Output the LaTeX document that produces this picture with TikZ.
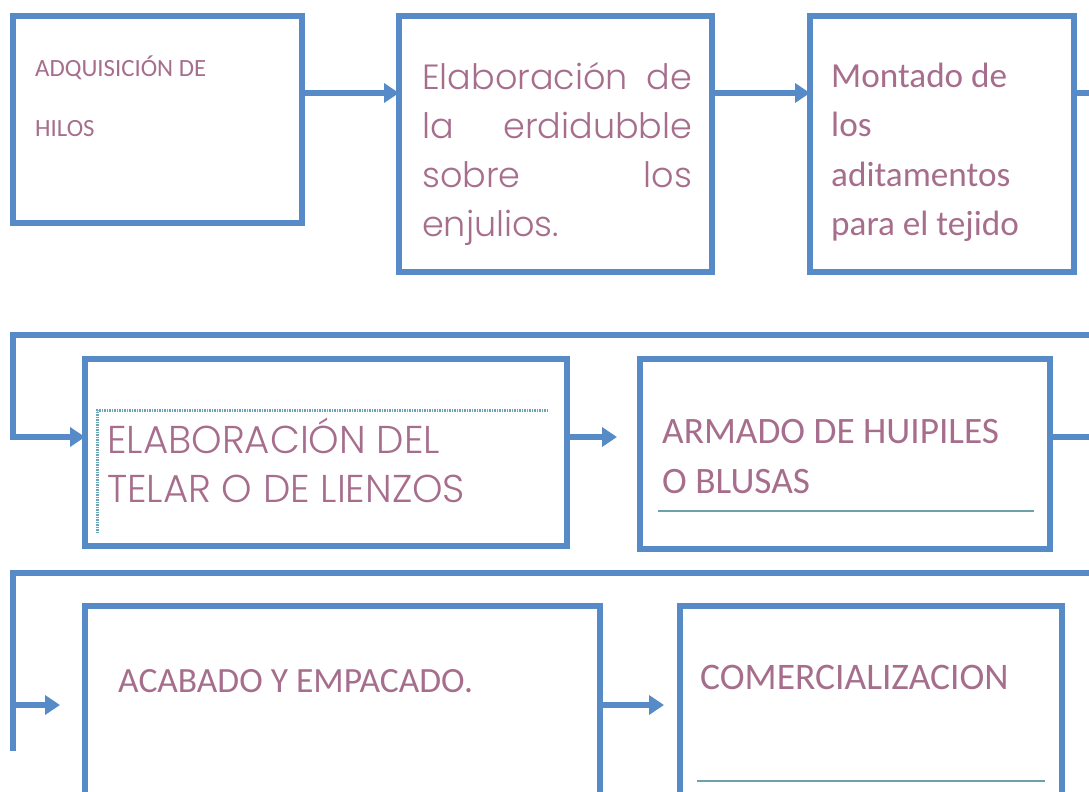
\documentclass[tikz,border=0pt]{standalone}
\usepackage{fontspec}
\setmainfont{Carlito}
\IfFontExistsTF{Poppins Light}{\newfontfamily\gothic{Poppins Light}}{\newfontfamily\gothic{Poppins}}
\usetikzlibrary{arrows.meta,positioning}

\definecolor{flowblue}{RGB}{86,139,199}
\definecolor{mauve}{RGB}{166,110,140}
\definecolor{rulecol}{RGB}{110,160,170}
\definecolor{dotcol}{RGB}{105,165,180}

\tikzset{
  etapa/.style={draw=flowblue, line width=6pt, inner sep=0pt, outer sep=0pt},
  linea/.style={draw=flowblue, line width=6pt},
  flecha/.style={linea, -{Triangle[length=15pt,width=19pt]}},
  texto/.style={anchor=base west, inner sep=0pt, text=mauve},
  subrayado/.style={draw=rulecol, line width=1.5pt}
}

\begin{document}
\begin{tikzpicture}[x=1pt, y=-1pt]
  \useasboundingbox (0,0) rectangle (1089,792);
  \clip (0,0) rectangle (1089,792);

  % first row
  \node[etapa, minimum width=289, minimum height=207] (A) at (157.5,119.5) {};
  \node[etapa, minimum width=313, minimum height=256] (B) at (555.5,144) {};
  \node[etapa, minimum width=264, minimum height=256] (C) at (942,144) {};

  \node[texto, font=\fontsize{24.8}{59}\selectfont] (tA) at (35,77)
    {\parbox[t]{250pt}{ADQUISICIÓN DE\\HILOS}};
  \node[texto, font=\gothic\fontsize{35}{49}\selectfont] (tB) at (422,89)
    {\parbox[t]{270pt}{\makebox[\linewidth][s]{Elaboración de}\\
      \makebox[\linewidth][s]{la erdidubble}\\
      \makebox[\linewidth][s]{sobre los}\\
      enjulios.}};
  \node[texto, font=\fontsize{35.2}{49.5}\selectfont] (tC) at (831,87)
    {\parbox[t]{240pt}{Montado de\\los\\aditamentos\\para el tejido}};

  % second row
  \node[etapa, minimum width=482, minimum height=187] (D) at (326,452.5) {};
  \node[etapa, minimum width=410, minimum height=190] (E) at (845,454) {};

  \draw[dotcol, line width=3pt, dash pattern=on 1.5pt off 1pt] (548,410) -- (97,410) -- (97,533);
  \node[texto, font=\gothic\fontsize{38.8}{49}\selectfont] (tD) at (107,453)
    {\parbox[t]{440pt}{ELABORACIÓN DEL\\TELAR O DE LIENZOS}};
  \node[texto, font=\fontsize{37.3}{50}\selectfont] (tE) at (662,443)
    {\parbox[t]{380pt}{ARMADO DE HUIPILES\\O BLUSAS}};
  \draw[subrayado] (658,511) -- (1034,511);

  % third row
  \node[etapa, minimum width=515, minimum height=244] (F) at (342.5,728) {};
  \node[etapa, minimum width=382, minimum height=244] (G) at (871,728) {};

  \node[texto, font=\fontsize{35.5}{40}\selectfont] (tF) at (118,692) {ACABADO Y EMPACADO.};
  \node[texto, font=\fontsize{37.5}{40}\selectfont] (tG) at (700,689) {COMERCIALIZACION};
  \draw[subrayado] (697,781) -- (1045,781);

  % connectors
  \coordinate (puntaE) at (617,437);
  \coordinate (finF) at (13,751);
  \coordinate (ramaF) at (13,705);
  \coordinate (puntaF) at (60,705);
  \coordinate (puntaG) at (664,705);

  \draw[flecha] (A.east |- 0,93) -- (B.west |- 0,93);
  \draw[flecha] (B.east |- 0,93) -- (C.west |- 0,93);
  \draw[flecha] (C.east |- 0,93) -- (1110,93) |- (13,335) |- (D.west |- 0,437);
  \draw[flecha] (D.east |- 0,437) -- (puntaE);
  \draw[linea] (E.east |- 0,437) -- (1110,437) |- (13,573) -- (finF);
  \draw[flecha] (ramaF) -- (puntaF);
  \draw[flecha] (F.east |- 0,705) -- (puntaG);
\end{tikzpicture}
\end{document}
